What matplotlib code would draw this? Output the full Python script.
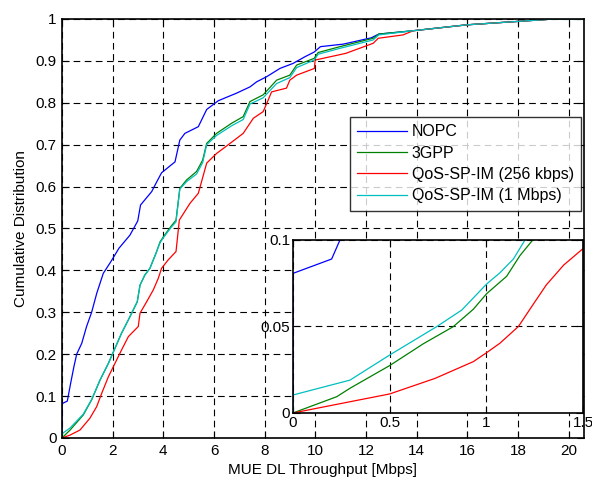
import matplotlib.pyplot as plt

plt.rcParams['font.family'] = ['Liberation Sans', 'DejaVu Sans']

# main CDF curves (throughput in Mbps, cumulative probability)
nopc_x = [0, 0, 0.21, 0.34, 0.47, 0.58, 0.78, 0.97, 1.17, 1.37, 1.63, 1.92, 2.25, 2.68, 2.99, 3.10,
          3.54, 3.71, 3.93, 4.46, 4.65, 4.85, 5.38, 5.71, 6.17, 6.89, 7.42, 7.68, 8.07, 8.60, 9.12,
          9.59, 9.95, 10.2, 11.1, 12.2, 12.5, 13.86, 15.96, 19.4, 20.6]
nopc_y = [0, 0.082, 0.088, 0.13, 0.17, 0.20, 0.226, 0.266, 0.30, 0.345, 0.393, 0.42, 0.453, 0.484, 0.518, 0.556,
          0.588, 0.608, 0.633, 0.659, 0.711, 0.727, 0.743, 0.784, 0.805, 0.823, 0.838, 0.850, 0.862, 0.882, 0.894,
          0.910, 0.921, 0.934, 0.940, 0.955, 0.964, 0.972, 0.986, 1.0, 1.0]

gpp_x = [0, 0.32, 0.84, 1.17, 1.50, 1.83, 2.09, 2.35, 2.62, 2.97, 3.08, 3.27, 3.47, 3.71, 3.87, 4.0,
         4.30, 4.50, 4.65, 4.92, 5.31, 5.55, 5.71, 6.10, 6.69, 7.15, 7.42, 7.94, 8.47, 8.99, 9.26,
         9.95, 10.11, 10.97, 12.28, 12.5, 13.86, 15.96, 19.4, 20.6]
gpp_y = [0, 0.019, 0.055, 0.091, 0.138, 0.178, 0.214, 0.25, 0.282, 0.325, 0.365, 0.389, 0.405, 0.441, 0.468, 0.48,
         0.505, 0.52, 0.596, 0.616, 0.636, 0.663, 0.703, 0.727, 0.751, 0.767, 0.803, 0.819, 0.854, 0.866, 0.89,
         0.906, 0.920, 0.934, 0.954, 0.964, 0.972, 0.986, 1.0, 1.0]

qos1m_x = [0, 0, 0.32, 0.84, 1.17, 1.50, 1.83, 2.09, 2.35, 2.62, 2.97, 3.08, 3.27, 3.47, 3.71, 3.87, 4.0,
           4.30, 4.50, 4.65, 4.92, 5.31, 5.55, 5.71, 6.10, 6.69, 7.15, 7.42, 7.94, 8.47, 8.99, 9.26,
           9.95, 10.11, 10.97, 12.28, 12.5, 13.86, 15.96, 19.4, 20.6]
qos1m_y = [0, 0.010, 0.024, 0.057, 0.092, 0.138, 0.178, 0.214, 0.25, 0.282, 0.325, 0.365, 0.389, 0.405, 0.441, 0.466, 0.478,
           0.502, 0.516, 0.594, 0.612, 0.630, 0.657, 0.700, 0.722, 0.745, 0.760, 0.797, 0.812, 0.846, 0.860, 0.884,
           0.902, 0.916, 0.930, 0.950, 0.962, 0.972, 0.986, 1.0, 1.0]

qos256_x = [0, 0.32, 0.71, 1.10, 1.37, 1.57, 1.83, 2.09, 2.35, 2.62, 3.01, 3.08, 3.34, 3.60, 3.80, 3.93,
            4.19, 4.50, 4.63, 5.05, 5.38, 5.71, 6.10, 6.63, 7.15, 7.55, 7.94, 8.14, 8.27, 8.86, 8.99,
            9.26, 9.96, 9.99, 11.2, 12.28, 12.48, 13.46, 13.86, 15.96, 19.4, 20.6]
qos256_y = [0, 0.007, 0.019, 0.047, 0.075, 0.107, 0.146, 0.178, 0.21, 0.242, 0.266, 0.298, 0.325, 0.353, 0.381, 0.405,
            0.425, 0.445, 0.52, 0.56, 0.584, 0.656, 0.679, 0.703, 0.727, 0.763, 0.779, 0.807, 0.826, 0.835, 0.854,
            0.866, 0.882, 0.902, 0.918, 0.942, 0.954, 0.962, 0.972, 0.986, 1.0, 1.0]

# inset (zoom on the low tail)
in_nopc_x = [0, 0, 0.20, 0.243]
in_nopc_y = [0, 0.0807, 0.089, 0.1]
in_gpp_x = [0, 0.226, 0.295, 0.50, 0.674, 0.829, 0.933, 1.002, 1.105, 1.174, 1.24]
in_gpp_y = [0, 0.0094, 0.0143, 0.0274, 0.040, 0.0499, 0.060, 0.069, 0.079, 0.091, 0.1]
in_qos256_x = [0, 0.295, 0.50, 0.735, 0.933, 1.002, 1.07, 1.166, 1.24, 1.31, 1.40, 1.50]
in_qos256_y = [0, 0.0065, 0.011, 0.020, 0.0297, 0.0349, 0.0403, 0.050, 0.0624, 0.074, 0.0855, 0.095]
in_qos1m_x = [0, 0, 0.295, 0.50, 0.743, 0.873, 1.002, 1.07, 1.14, 1.20]
in_qos1m_y = [0, 0.0104, 0.019, 0.0335, 0.0499, 0.0595, 0.0746, 0.081, 0.089, 0.1]

labels = ['NOPC', '3GPP', 'QoS-SP-IM (256 kbps)', 'QoS-SP-IM (1 Mbps)']
colors = ['#0000ff', '#008000', '#ff0000', '#00bfbf']

fig = plt.figure(figsize=(5.92, 4.82), dpi=100)
ax = fig.add_axes([0.1047, 0.0913, 0.8818, 0.8693])

series = [(nopc_x, nopc_y), (gpp_x, gpp_y), (qos256_x, qos256_y), (qos1m_x, qos1m_y)]
for (x, y), c, lab in zip(series, colors, labels):
    ax.plot(x, y, color=c, lw=0.9, label=lab)

ax.set_xlim(0, 20.6)
ax.set_ylim(0, 1)
ax.set_xticks(range(0, 21, 2))
ax.set_yticks([i / 10 for i in range(11)])
ax.set_yticklabels(['0'] + ['%g' % (i / 10) for i in range(1, 10)] + ['1'])
ax.grid(True, color='black', linestyle=(0, (6, 4)), linewidth=0.8)
ax.tick_params(direction='in', top=True, right=True, labelsize=11, length=5, pad=4)
for s in ax.spines.values():
    s.set_linewidth(1.2)
ax.set_xlabel('MUE DL Throughput [Mbps]', fontsize=11, labelpad=4)
ax.set_ylabel('Cumulative Distribution', fontsize=11, labelpad=5)

leg = ax.legend(loc='upper left', bbox_to_anchor=(0.552, 0.766), fontsize=11.5, frameon=True,
                fancybox=False, edgecolor='black', handlelength=3.1, handletextpad=0.3,
                borderpad=0.45, labelspacing=0.4, borderaxespad=0)
leg.get_frame().set_linewidth(1.0)

ins = fig.add_axes([0.4949, 0.1432, 0.4899, 0.3589])
inset = [(in_nopc_x, in_nopc_y), (in_gpp_x, in_gpp_y), (in_qos256_x, in_qos256_y), (in_qos1m_x, in_qos1m_y)]
for (x, y), c in zip(inset, colors):
    ins.plot(x, y, color=c, lw=0.9)
ins.set_xlim(0, 1.5)
ins.set_ylim(0, 0.1)
ins.set_xticks([0, 0.5, 1, 1.5])
ins.set_xticklabels(['0', '0.5', '1', '1.5'])
ins.set_yticks([0, 0.05, 0.1])
ins.set_yticklabels(['0', '0.05', '0.1'])
ins.grid(True, color='black', linestyle=(0, (6, 4)), linewidth=0.8)
ins.tick_params(direction='in', top=True, right=True, labelsize=11, length=5, pad=2)
for s in ins.spines.values():
    s.set_linewidth(1.2)

fig.savefig('out.png', dpi=100)
